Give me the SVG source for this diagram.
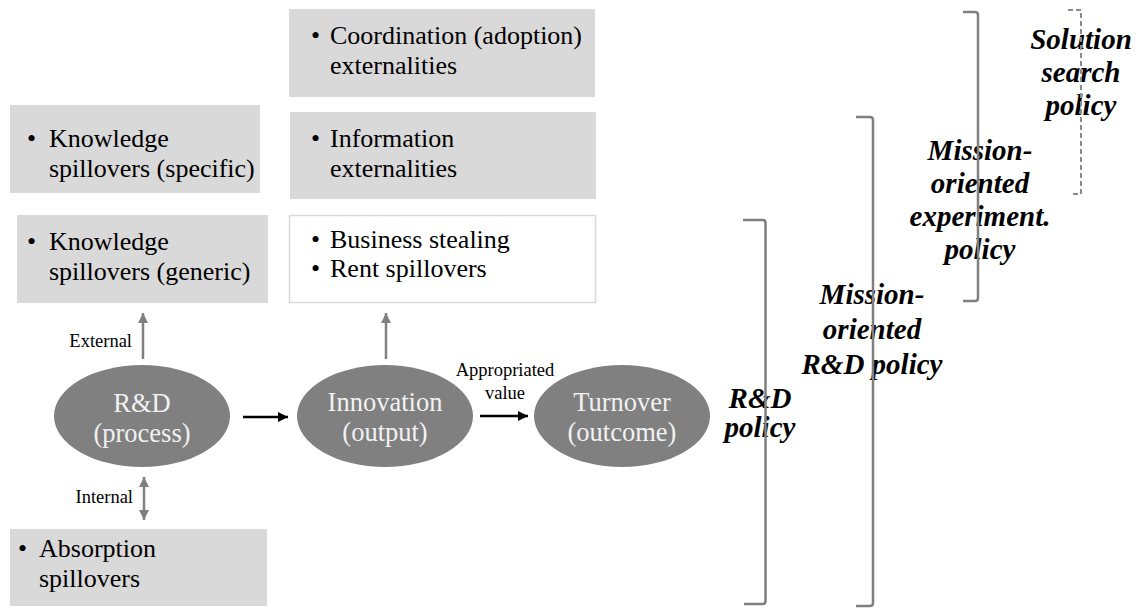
<svg xmlns="http://www.w3.org/2000/svg" width="1137" height="608" viewBox="0 0 1137 608">
<style>
.box{fill:#d9d9d9}
.wbox{fill:#ffffff;stroke:#d9d9d9;stroke-width:1.5}
.bt{font-family:"Liberation Serif","Times New Roman",serif;font-size:26px;fill:#000}
.ell{fill:#808080}
.et{font-family:"Liberation Serif","Times New Roman",serif;font-size:26.5px;fill:#f2f2f2;text-anchor:middle}
.lbl{font-family:"Liberation Serif","Times New Roman",serif;font-size:18.5px;fill:#000}
.pol{font-family:"Liberation Serif","Times New Roman",serif;font-size:29px;font-weight:bold;font-style:italic;fill:#000;text-anchor:middle}
.garr{stroke:#808080;stroke-width:2.5;fill:none}
.barr{stroke:#000;stroke-width:2.5;fill:none}
.brk{stroke:#808080;stroke-width:2.5;fill:none}
.dbrk{stroke:#8c8c8c;stroke-width:2;fill:none;stroke-dasharray:5 3}
</style>
<defs>
<marker id="gh" markerUnits="userSpaceOnUse" markerWidth="10" markerHeight="10" refX="10" refY="5" orient="auto-start-reverse" viewBox="0 0 10 10">
<path d="M0,0 L10,5 L0,10 z" fill="#808080"/>
</marker>
<marker id="bh" markerUnits="userSpaceOnUse" markerWidth="10" markerHeight="10" refX="10" refY="5" orient="auto-start-reverse" viewBox="0 0 10 10">
<path d="M0,0 L10,5 L0,10 z" fill="#000"/>
</marker>
</defs>

<g id="coordination">
<rect class="box" x="289" y="9" width="306" height="88"/>
<text class="bt" x="311" y="44">•</text>
<text class="bt" x="330" y="44">Coordination (adoption)</text>
<text class="bt" x="330" y="74">externalities</text>
</g>

<g id="information">
<rect class="box" x="290" y="112" width="306" height="87"/>
<text class="bt" x="311" y="147">•</text>
<text class="bt" x="330" y="147">Information</text>
<text class="bt" x="330" y="177">externalities</text>
</g>

<g id="business">
<rect class="wbox" x="289.5" y="215.5" width="306" height="87"/>
<text class="bt" x="311" y="248">•</text>
<text class="bt" x="330" y="248">Business stealing</text>
<text class="bt" x="311" y="277">•</text>
<text class="bt" x="330" y="277">Rent spillovers</text>
</g>

<g id="knowledge-specific">
<rect class="box" x="10" y="105" width="250" height="88"/>
<text class="bt" x="27" y="147">•</text>
<text class="bt" x="49" y="147">Knowledge</text>
<text class="bt" x="49" y="177">spillovers (specific)</text>
</g>

<g id="knowledge-generic">
<rect class="box" x="17" y="215" width="251" height="88"/>
<text class="bt" x="27" y="250">•</text>
<text class="bt" x="49" y="250">Knowledge</text>
<text class="bt" x="49" y="280">spillovers (generic)</text>
</g>

<g id="absorption">
<rect class="box" x="10" y="529" width="257" height="77"/>
<text class="bt" x="18" y="557">•</text>
<text class="bt" x="39" y="557">Absorption</text>
<text class="bt" x="39" y="587">spillovers</text>
</g>

<g id="rd">
<ellipse class="ell" cx="142" cy="416" rx="88" ry="51"/>
<text class="et" x="142" y="412">R&amp;D</text>
<text class="et" x="142" y="442">(process)</text>
</g>

<g id="innovation">
<ellipse class="ell" cx="385" cy="416" rx="88" ry="51"/>
<text class="et" x="385" y="411">Innovation</text>
<text class="et" x="385" y="441">(output)</text>
</g>

<g id="turnover">
<ellipse class="ell" cx="622" cy="416" rx="88" ry="51"/>
<text class="et" x="622" y="411">Turnover</text>
<text class="et" x="622" y="441">(outcome)</text>
</g>

<g id="connectors">
<line class="garr" x1="143" y1="359" x2="143" y2="313" marker-end="url(#gh)"/>
<line class="garr" x1="386" y1="359" x2="386" y2="313" marker-end="url(#gh)"/>
<line class="garr" x1="144" y1="477" x2="144" y2="520" marker-start="url(#gh)" marker-end="url(#gh)"/>
<line class="barr" x1="243" y1="417" x2="288" y2="417" marker-end="url(#bh)"/>
<line class="barr" x1="480" y1="416" x2="528" y2="416" marker-end="url(#bh)"/>
<text class="lbl" x="132" y="347" text-anchor="end">External</text>
<text class="lbl" x="133" y="503" text-anchor="end">Internal</text>
<text class="lbl" x="505" y="376" text-anchor="middle">Appropriated</text>
<text class="lbl" x="505" y="399" text-anchor="middle">value</text>
</g>

<g id="rd-policy">
<text class="pol" x="760" y="408">R&amp;D</text>
<text class="pol" x="760" y="437">policy</text>
<path class="brk" d="M743 220 H763 Q765.5 220 765.5 223 V601 Q765.5 604 763 604 H744"/>
</g>

<g id="mission-rd-policy">
<text class="pol" x="872" y="304">Mission-</text>
<text class="pol" x="872" y="339">oriented</text>
<text class="pol" x="872" y="374">R&amp;D policy</text>
<path class="brk" d="M856 117 H870 Q873 117 873 120 V603 Q873 606 870 606 H856"/>
</g>

<g id="mission-experiment-policy">
<text class="pol" x="980" y="160">Mission-</text>
<text class="pol" x="980" y="193">oriented</text>
<text class="pol" x="980" y="226">experiment.</text>
<text class="pol" x="980" y="259">policy</text>
<path class="brk" d="M963 12 H975 Q978 12 978 15 V298 Q978 301 975 301 H963"/>
</g>

<g id="solution-search-policy">
<text class="pol" x="1081" y="49">Solution</text>
<text class="pol" x="1081" y="82">search</text>
<text class="pol" x="1081" y="115">policy</text>
<path class="dbrk" d="M1068 10 H1081 V194 H1070"/>
</g>
</svg>
